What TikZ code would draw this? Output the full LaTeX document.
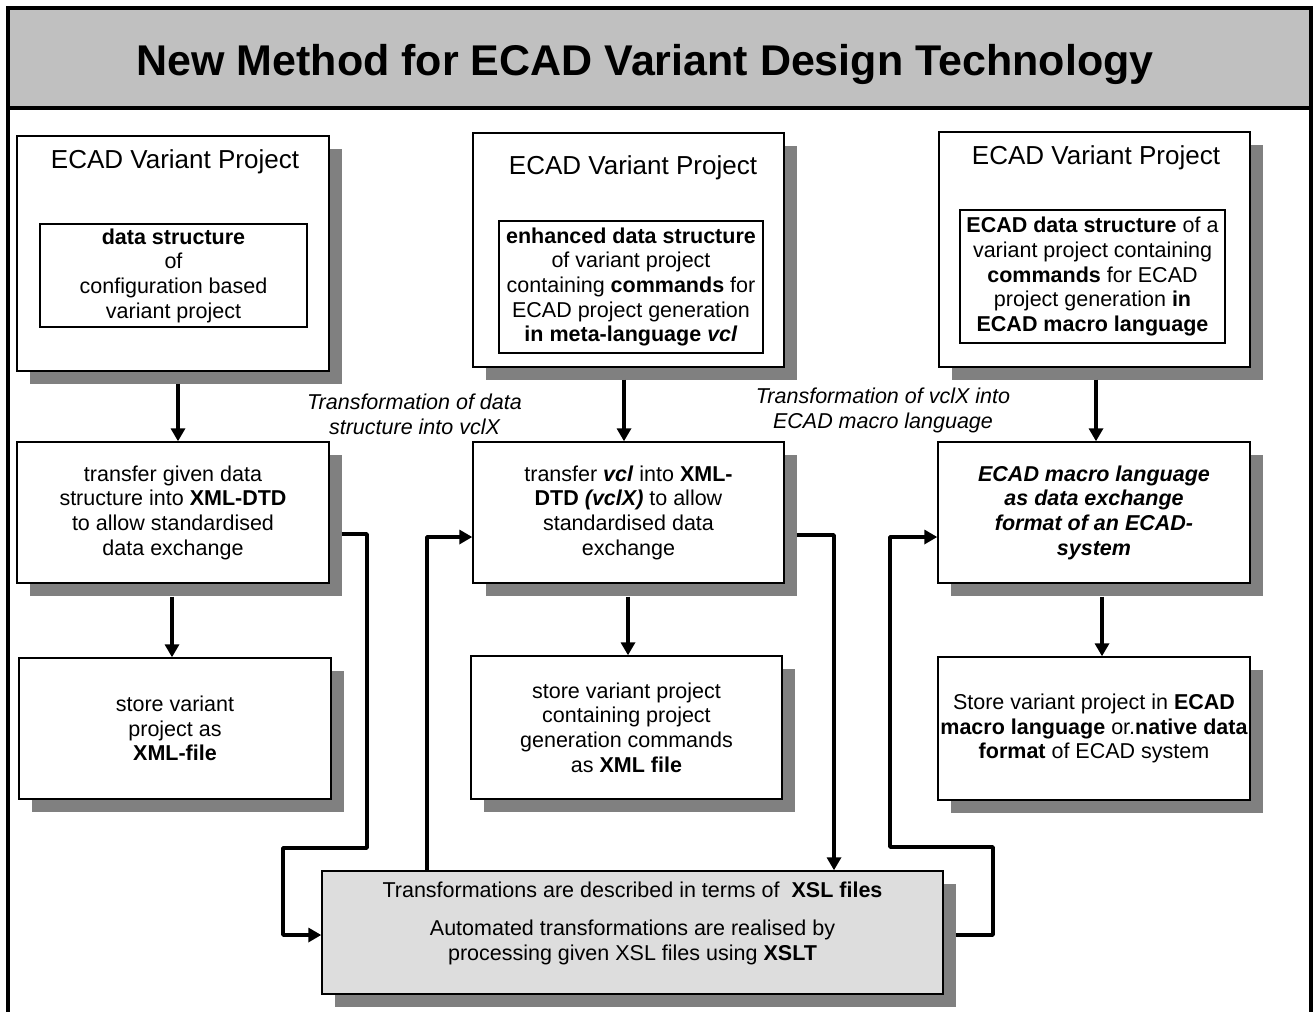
\documentclass[tikz,border=0pt]{standalone}
\usepackage{fontspec}
\setmainfont{Liberation Sans}
\usetikzlibrary{arrows.meta,shadows}
\definecolor{titlegray}{HTML}{C0C0C0}
\definecolor{shadegray}{HTML}{808080}
\definecolor{xslgray}{HTML}{DDDDDD}

\begin{document}
\begin{tikzpicture}[x=1pt,y=-1pt,
        txt/.style={font=\fontsize{21.5}{24.7}\selectfont,align=center},
        lab/.style={align=center,font=\fontsize{21.5}{24.7}\selectfont\itshape},
        head/.style={anchor=base,font=\fontsize{26}{30}\selectfont},
        box/.style={draw,line width=1.4pt,fill=white,inner sep=0pt,
          drop shadow={shadow xshift=13pt,shadow yshift=-12.5pt,opacity=1,fill=shadegray}},
        inbox/.style={draw,line width=1.8pt,fill=white,inner sep=0pt},
        conn/.style={line width=3.5pt,line join=round},
        tip/.style={-{Triangle[length=13pt,width=14pt]}}]

        \useasboundingbox (0,0) rectangle (1316,1012);

        \draw[line width=3.5pt,fill=titlegray] (8,8) rectangle (1311,108);
        \draw[line width=3.5pt] (8,108) -- (8,1012) (1311,108) -- (1311,1012);
        \node[anchor=base,font=\fontsize{43}{50}\selectfont\bfseries] (title) at (645,75)
          {New Method for ECAD Variant Design Technology};

        \begin{scope}[every node/.style={box,txt}]
          \node[minimum width=312pt,minimum height=235pt] (a1) at (173,253.5) {};
          \node[minimum width=311pt,minimum height=234pt] (b1) at (628.5,250) {};
          \node[minimum width=311pt,minimum height=235pt] (c1) at (1094.5,249.5) {};

          \node[minimum width=312pt,minimum height=141pt] (a2) at (173,512.5)
            {transfer given data\\structure into \textbf{XML-DTD}\\to allow standardised\\data exchange};
          \node[minimum width=311pt,minimum height=141pt] (b2) at (628.5,512.5)
            {transfer \textbf{\textit{vcl}} into \textbf{XML-}\\\textbf{DTD \textit{(vclX)}} to allow\\standardised data\\exchange};
          \node[minimum width=312pt,minimum height=141pt,font=\fontsize{21.5}{24.7}\selectfont\bfseries\itshape] (c2) at (1094,512.5)
            {ECAD macro language\\as data exchange\\format of an ECAD-\\system};

          \node[minimum width=312pt,minimum height=141pt] (a3) at (175,728.5)
            {store variant\\project as\\\textbf{XML-file}};
          \node[minimum width=311pt,minimum height=143pt] (b3) at (626.5,727.5)
            {store variant project\\containing project\\generation commands\\as \textbf{XML file}};
          \node[minimum width=312pt,minimum height=143pt] (c3) at (1094,728.5)
            {Store variant project in \textbf{ECAD}\\\textbf{macro language} or.\textbf{native data}\\\textbf{format} of ECAD system};

          \node[minimum width=621pt,minimum height=123pt,fill=xslgray] (xsl) at (632.5,932.5) {};
        \end{scope}

        \node[head] (a1h) at (175,168) {ECAD Variant Project};
        \node[head] (b1h) at (633,174) {ECAD Variant Project};
        \node[head] (c1h) at (1096,164) {ECAD Variant Project};

        \begin{scope}[every node/.style={inbox,txt}]
          \node[minimum width=267pt,minimum height=103pt] (a1i) at (173.5,275.5)
            {\textbf{data structure}\\of\\configuration based\\variant project};
          \node[minimum width=264pt,minimum height=132pt] (b1i) at (631,287)
            {\textbf{enhanced data structure}\\of variant project\\containing \textbf{commands} for\\ECAD project generation\\\textbf{in meta-language \textit{vcl}}};
          \node[minimum width=265pt,minimum height=133pt] (c1i) at (1092.5,276.5)
            {\textbf{ECAD data structure} of a\\variant project containing\\\textbf{commands} for ECAD\\project generation \textbf{in}\\\textbf{ECAD macro language}};
        \end{scope}

        \node[txt] (xslt) at (632.5,923.5)
          {Transformations are described in terms of\ \ \textbf{XSL files}\\[13pt]Automated transformations are realised by\\processing given XSL files using \textbf{XSLT}};

        \node[lab] (lab1) at (414.5,414.5) {Transformation of data\\structure into vclX};
        \node[lab] (lab2) at (883,410.5) {Transformation of vclX into\\ECAD macro language};

        \coordinate (p1) at (367,848);
        \coordinate (p2) at (283,935);
        \coordinate (q1) at (427,537);
        \coordinate (r1) at (834,535);
        \coordinate (s1) at (993,847);
        \coordinate (s2) at (890,537);

        \begin{scope}[every edge/.style={draw,line width=4pt,tip}]
          \path ([xshift=5pt,yshift=-12pt]a1.south) edge ([xshift=5pt]a2.north);
          \path ([xshift=-1pt,yshift=-13pt]a2.south) edge ([xshift=-3pt]a3.north);
          \path ([xshift=-4.5pt,yshift=-12pt]b1.south) edge ([xshift=-4.5pt]b2.north);
          \path ([xshift=-0.5pt,yshift=-13pt]b2.south) edge ([xshift=1.5pt]b3.north);
          \path ([xshift=1.5pt,yshift=-12pt]c1.south) edge ([xshift=2pt]c2.north);
          \path ([xshift=8pt,yshift=-13pt]c2.south) edge ([xshift=8pt]c3.north);
        \end{scope}

        \draw[conn,tip] ([xshift=12pt,yshift=-21.5pt]a2.east) -| (p1) -| (p2) -- (xsl.west |- p2);
        \draw[conn,tip] (xsl.north -| q1) |- (b2.west |- q1);
        \draw[conn,tip] ([xshift=12pt,yshift=-22.5pt]b2.east) -| (xsl.north -| r1);
        \draw[conn,tip] ([xshift=12pt,yshift=-2.5pt]xsl.east) -| (s1) -| (s2) -- (c2.west |- s2);

      \end{tikzpicture}
\end{document}
